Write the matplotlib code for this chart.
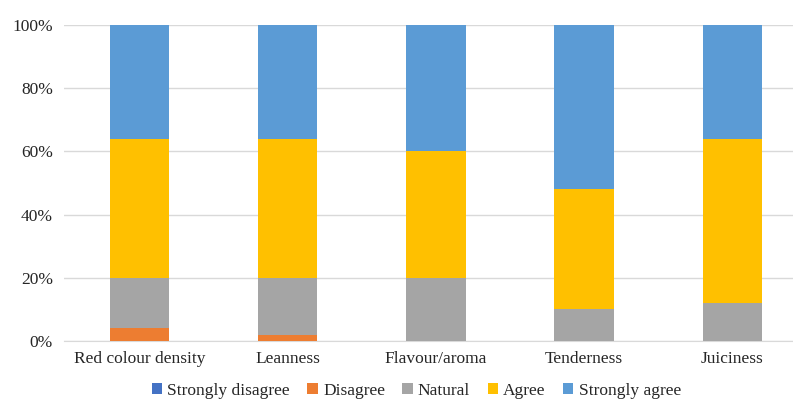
import matplotlib
matplotlib.use("Agg")
import matplotlib.pyplot as plt
from matplotlib.ticker import PercentFormatter

categories = ["Red colour density", "Leanness", "Flavour/aroma", "Tenderness", "Juiciness"]
series_names = ["Strongly disagree", "Disagree", "Natural", "Agree", "Strongly agree"]
strongly_disagree = [0, 0, 0, 0, 0]
disagree = [4, 2, 0, 0, 0]
natural = [16, 18, 20, 10, 12]
agree = [44, 44, 40, 38, 52]
strongly_agree = [36, 36, 40, 52, 36]
colors = ["#4472C4", "#ED7D31", "#A5A5A5", "#FFC000", "#5B9BD5"]

plt.rcParams["font.family"] = ["Liberation Serif", "DejaVu Serif"]

fig = plt.figure(figsize=(7.93, 4.03), dpi=100)
ax = fig.add_axes([0.0807, 0.1538, 0.9193, 0.7842])

x = list(range(len(categories)))
bottom = [0] * len(categories)
for name, vals, c in zip(series_names,
                         [strongly_disagree, disagree, natural, agree, strongly_agree],
                         colors):
    ax.bar(x, vals, width=0.4, bottom=bottom, color=c, label=name, zorder=3)
    bottom = [b + v for b, v in zip(bottom, vals)]

ax.set_ylim(0, 100)
ax.set_xlim(-0.51, 4.41)
ax.set_yticks(range(0, 101, 20))
ax.yaxis.set_major_formatter(PercentFormatter(decimals=0))
ax.set_xticks(x)
ax.set_xticklabels(categories)
ax.grid(axis="y", color="#D9D9D9", linewidth=1, zorder=0)
for s in ["top", "right", "left"]:
    ax.spines[s].set_visible(False)
ax.spines["bottom"].set_color("#D9D9D9")
ax.tick_params(axis="both", length=0, labelsize=12.5, colors="#262626")
ax.tick_params(axis="x", pad=7)
ax.tick_params(axis="y", pad=8)

fig.legend(loc="center", bbox_to_anchor=(0.525, 0.03), ncol=5, frameon=False,
           fontsize=12.5, handlelength=0.6, handleheight=0.6, handletextpad=0.3,
           columnspacing=1.0, labelcolor="#262626")

fig.savefig("out.png", dpi=100)
